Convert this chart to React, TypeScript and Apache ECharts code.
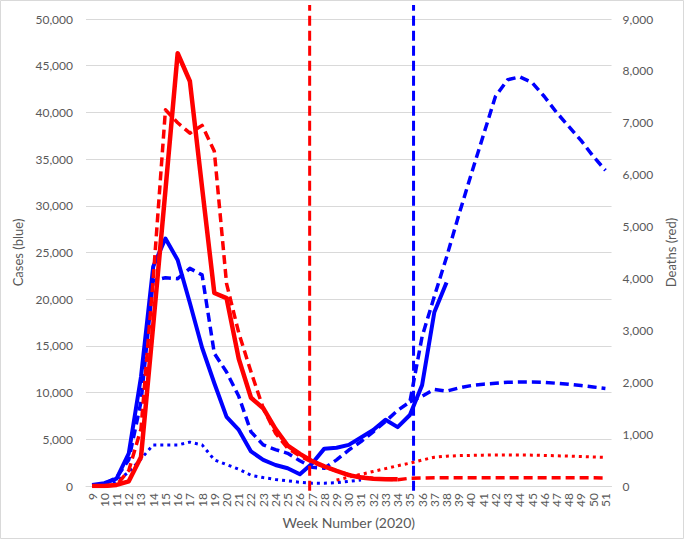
import React, { useEffect, useRef } from "react";
import * as echarts from "echarts";

const weeks = ["9","10","11","12","13","14","15","16","17","18","19","20","21","22","23","24","25","26","27","28","29","30","31","32","33","34","35","36","37","38","39","40","41","42","43","44","45","46","47","48","49","50","51"];

// Cases (left axis)
const casesActual = [100,300,800,3500,11700,23500,26500,24200,19600,14800,11000,7400,6000,3700,2800,2250,1900,1250,2400,4000,4100,4400,5200,6000,7100,6300,7600,10800,18600,21800,null,null,null,null,null,null,null,null,null,null,null,null,null];
const casesModelHigh = [0,200,900,2800,9000,22000,22300,22200,23300,22600,14200,12200,9600,5800,4400,3900,3500,2700,2000,1900,2800,3850,4750,5800,6900,8100,9000,16000,20300,24500,29000,33300,37500,41700,43500,43800,43200,41700,40000,38500,37000,35300,33800];
const casesModelLow = [null,null,null,null,null,null,null,null,null,null,null,null,null,null,null,null,null,null,null,null,null,null,null,null,null,null,9000,9600,10350,10150,10500,10750,10900,11000,11100,11130,11130,11100,11000,10900,10750,10600,10450];
const casesDotted = [0,100,500,1500,2900,4400,4400,4400,4700,4400,2800,2300,1800,1150,900,700,550,400,300,300,350,500,650,null,null,null,null,null,null,null,null,null,null,null,null,null,null,null,null,null,null,null,null];

// Deaths (right axis)
const deathsActual = [0,0,20,90,560,3100,5700,8340,7800,5750,3720,3620,2450,1700,1500,1100,780,620,480,380,290,210,165,140,130,130,null,null,null,null,null,null,null,null,null,null,null,null,null,null,null,null,null];
const deathsModel = [0,0,20,300,1100,4000,7250,7000,6800,6950,6450,3900,2950,2200,1500,1020,730,580,460,370,290,220,175,145,130,120,150,155,160,160,160,160,160,160,160,160,160,160,160,160,160,158,155];
const deathsDotted = [null,null,null,null,null,null,null,null,null,null,null,null,null,null,null,null,null,null,null,null,115,170,225,280,335,390,440,500,555,575,585,590,595,597,598,597,595,590,583,576,568,560,553];

// Vertical marker weeks
const redMarkerWeek = 26.8;
const blueMarkerWeek = 35.3;

const casesTicks = { min: 0, max: 50000, interval: 5000 };
const deathsTicks = { min: 0, max: 9000, interval: 1000 };

const RED = "#FF0000";
const BLUE = "#0000FF";
const GREY = "#595959";

export default function App() {
  const ref = useRef<HTMLDivElement>(null);
  useEffect(() => {
    document.body.style.margin = "0";
    if (!ref.current) return;
    const chart = echarts.init(ref.current, null, { renderer: "svg" });
    const fmt = (v: number) => v.toLocaleString("en-US");
    const lineSeries = (
      name: string,
      data: (number | null)[],
      color: string,
      yAxisIndex: number,
      type: any,
      width: number,
      z: number
    ) => ({
      name,
      type: "line",
      data,
      yAxisIndex,
      xAxisIndex: 0,
      symbol: "none",
      connectNulls: false,
      z,
      lineStyle: { color, width, type, cap: "butt", join: "round" },
      itemStyle: { color },
    });
    const vLine = (name: string, week: number, color: string) => ({
      name,
      type: "line",
      xAxisIndex: 1,
      yAxisIndex: 2,
      data: [
        [week, -0.01],
        [week, 1.03],
      ],
      clip: false,
      symbol: "none",
      z: 10,
      lineStyle: { color, width: 3, type: [10, 5] },
    });
    chart.setOption({
      animation: false,
      textStyle: { fontFamily: "Lato" },
      grid: { left: 86, right: 67, top: 19, bottom: 54, containLabel: false },
      xAxis: [
        {
          type: "category",
          data: weeks,
          boundaryGap: true,
          axisLine: { lineStyle: { color: "#d9d9d9", width: 1 } },
          axisTick: { show: false },
          axisLabel: { rotate: 90, interval: 0, color: GREY, fontSize: 12, margin: 7 },
          name: "Week Number (2020)",
          nameLocation: "middle",
          nameGap: 29,
          nameTextStyle: { color: GREY, fontSize: 14 },
        },
        { type: "value", min: 8.5, max: 51.5, show: false },
      ],
      yAxis: [
        {
          type: "value",
          ...casesTicks,
          position: "left",
          axisLine: { show: false },
          axisTick: { show: false },
          splitLine: { lineStyle: { color: "#d9d9d9", width: 1 } },
          axisLabel: { color: GREY, fontSize: 12, margin: 13, formatter: fmt },
          name: "Cases (blue)",
          nameLocation: "middle",
          nameGap: 55,
          nameTextStyle: { color: GREY, fontSize: 13 },
        },
        {
          type: "value",
          ...deathsTicks,
          position: "right",
          axisLine: { show: false },
          axisTick: { show: false },
          splitLine: { show: false },
          axisLabel: { color: GREY, fontSize: 12, margin: 11, formatter: fmt },
          name: "Deaths (red)",
          nameLocation: "middle",
          nameGap: 50,
          nameTextStyle: { color: GREY, fontSize: 13 },
        },
        { type: "value", min: 0, max: 1, show: false },
      ],
      graphic: [
        {
          type: "rect",
          shape: { x: 0.5, y: 0.5, width: 683, height: 538 },
          style: { fill: "none", stroke: "#d9d9d9", lineWidth: 1 },
          silent: true,
        },
      ],
      series: [
        lineSeries("Cases lower", casesDotted, BLUE, 0, [3, 4], 3, 2),
        lineSeries("Cases model high", casesModelHigh, BLUE, 0, [9, 5], 3.5, 3),
        lineSeries("Cases model low", casesModelLow, BLUE, 0, [9, 5], 3.5, 3),
        lineSeries("Cases", casesActual, BLUE, 0, "solid", 4, 4),
        lineSeries("Deaths lower", deathsDotted, RED, 1, [3, 4], 3, 5),
        lineSeries("Deaths model", deathsModel, RED, 1, [9, 5], 3.5, 6),
        lineSeries("Deaths", deathsActual, RED, 1, "solid", 4.5, 7),
        vLine("Marker red", redMarkerWeek, RED),
        vLine("Marker blue", blueMarkerWeek, BLUE),
      ],
    });
    return () => chart.dispose();
  }, []);
  return <div ref={ref} style={{ width: 685, height: 540 }} />;
}
